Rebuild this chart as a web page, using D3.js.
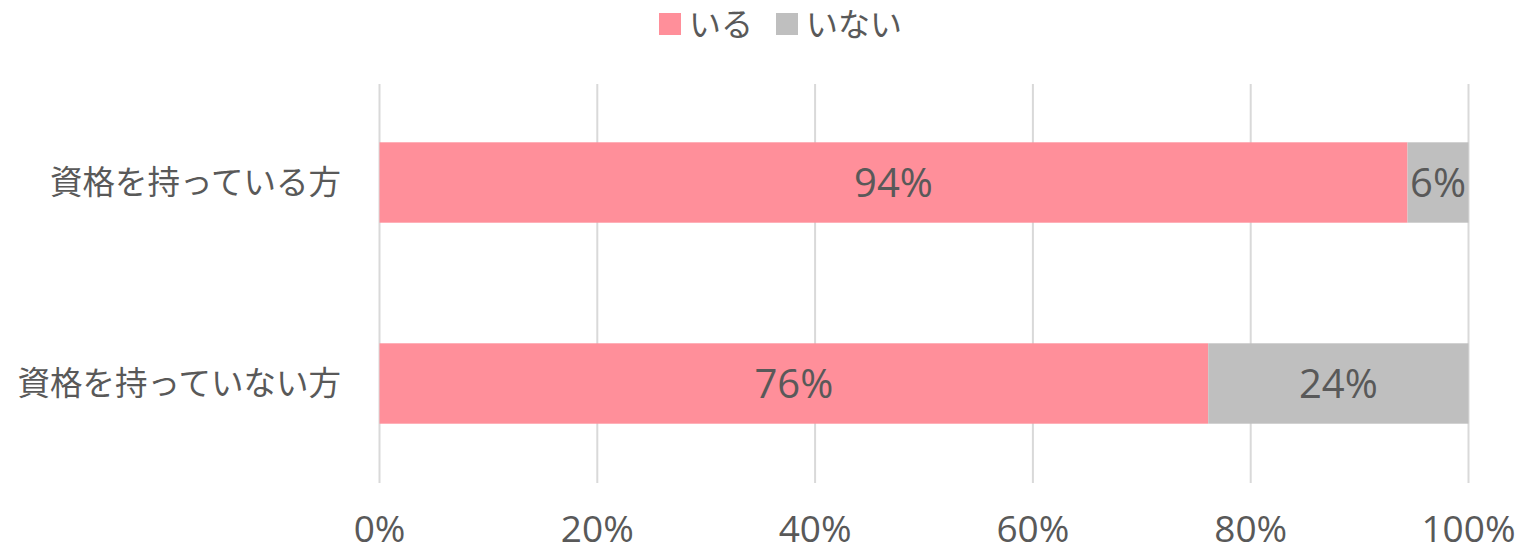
<!DOCTYPE html>
<html>
<head>
<meta charset="utf-8">
<script src="https://cdn.jsdelivr.net/npm/d3@7"></script>
<style>
  body { margin: 0; background: #fff; }
  svg text { fill: #595959; }
</style>
</head>
<body>
<div id="chart"></div>
<script>
const categories = ['資格を持っている方', '資格を持っていない方'];
const seriesNames = ['いる', 'いない'];
const iruValues = [94.4, 76.1];
const inaiValues = [5.6, 23.9];
const tickValues = [0, 20, 40, 60, 80, 100];
const colors = ['#FF8F9A', '#BFBFBF'];

const width = 1527, height = 554;
const numFont = '"Open Sans", "Noto Sans CJK JP", sans-serif';
const jpFont = '"Noto Sans CJK JP", sans-serif';

const svg = d3.select('#chart').append('svg')
  .attr('width', width)
  .attr('height', height);

const x = d3.scaleLinear().domain([0, 100]).range([379.5, 1468.5]);
const y = d3.scaleBand().domain(categories).range([82, 484]).paddingInner(0.6).paddingOuter(0.3);

// gridlines
svg.append('g')
  .selectAll('line')
  .data(tickValues)
  .enter()
  .append('line')
  .attr('x1', d => x(d))
  .attr('x2', d => x(d))
  .attr('y1', 84)
  .attr('y2', 483)
  .attr('stroke', '#D9D9D9')
  .attr('stroke-width', 2);

// x tick labels - kept just inside the bottom edge
svg.append('g')
  .selectAll('text')
  .data(tickValues)
  .enter()
  .append('text')
  .attr('x', d => x(d))
  .attr('y', 542)
  .attr('text-anchor', 'middle')
  .style('font-family', numFont)
  .style('font-size', '37px')
  .text(d => d + '%');

// category labels
svg.append('g')
  .selectAll('text')
  .data(categories)
  .enter()
  .append('text')
  .attr('x', 341)
  .attr('y', d => y(d) + y.bandwidth() / 2)
  .attr('dy', '0.35em')
  .attr('text-anchor', 'end')
  .style('font-family', jpFont)
  .style('font-size', '32.5px')
  .text(d => d);

// stacked bars + labels
const rows = categories.map((c, i) => ({ cat: c, vals: [iruValues[i], inaiValues[i]] }));
rows.forEach(r => {
  let start = 0;
  r.vals.forEach((v, j) => {
    svg.append('rect')
      .attr('x', x(start))
      .attr('y', y(r.cat))
      .attr('width', x(start + v) - x(start))
      .attr('height', y.bandwidth())
      .attr('fill', colors[j]);
    svg.append('text')
      .attr('x', (x(start) + x(start + v)) / 2)
      .attr('y', y(r.cat) + y.bandwidth() / 2)
      .attr('dy', '0.36em')
      .attr('text-anchor', 'middle')
      .style('font-family', numFont)
      .style('font-size', '40px')
      .text(Math.round(v) + '%');
    start += v;
  });
});

// legend
const legend = svg.append('g');
const legendX = [659, 776];
seriesNames.forEach((name, i) => {
  legend.append('rect')
    .attr('x', legendX[i])
    .attr('y', 13)
    .attr('width', 22)
    .attr('height', 22)
    .attr('fill', colors[i]);
  legend.append('text')
    .attr('x', legendX[i] + 30)
    .attr('y', 24)
    .attr('dy', '0.36em')
    .style('font-family', jpFont)
    .style('font-size', '32px')
    .text(name);
});
</script>
</body>
</html>
